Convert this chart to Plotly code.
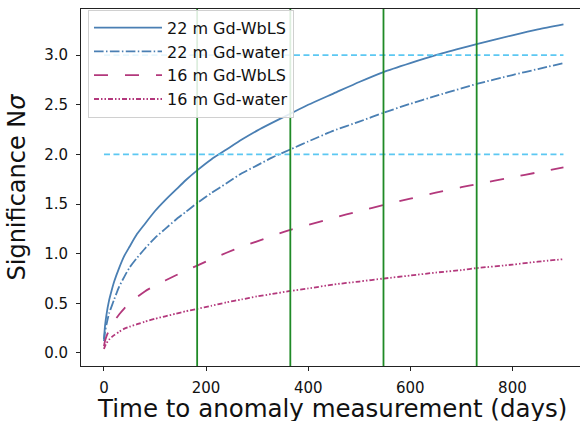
import plotly.graph_objects as go

# ---- data ----
days = [0, 2, 5, 10, 15, 20, 30, 40, 50, 65, 80, 100, 120, 140, 160, 182.5, 210, 240, 270,
        300, 330, 365, 400, 450, 500, 547.5, 600, 650, 700, 730, 800, 850, 900]
sig_22_wbls = [0.14, 0.27, 0.39, 0.53, 0.63, 0.72, 0.86, 0.98, 1.07, 1.20, 1.30, 1.43, 1.54, 1.64, 1.74,
               1.84, 1.95, 2.05, 2.15, 2.24, 2.32, 2.41, 2.50, 2.615, 2.73, 2.83, 2.92, 3.00, 3.07,
               3.11, 3.20, 3.26, 3.31]
sig_22_water = [0.12, 0.21, 0.29, 0.40, 0.47, 0.54, 0.67, 0.77, 0.86, 0.96, 1.05, 1.16, 1.25, 1.34, 1.42,
                1.51, 1.61, 1.71, 1.81, 1.89, 1.97, 2.05, 2.13, 2.24, 2.33, 2.42, 2.51, 2.59, 2.665,
                2.71, 2.80, 2.86, 2.92]
sig_16_wbls = [0.07, 0.12, 0.17, 0.23, 0.28, 0.32, 0.39, 0.45, 0.50, 0.565, 0.62, 0.68, 0.73, 0.78, 0.83,
               0.88, 0.945, 1.01, 1.07, 1.125, 1.18, 1.24, 1.29, 1.36, 1.43, 1.49, 1.555, 1.615, 1.67,
               1.70, 1.77, 1.82, 1.87]
sig_16_water = [0.04, 0.07, 0.10, 0.135, 0.16, 0.18, 0.215, 0.245, 0.265, 0.29, 0.315, 0.345, 0.37, 0.395,
                0.42, 0.445, 0.475, 0.51, 0.54, 0.57, 0.595, 0.625, 0.65, 0.69, 0.72, 0.75, 0.78, 0.81,
                0.835, 0.855, 0.89, 0.92, 0.945]

series_names = ["22 m Gd-WbLS", "22 m Gd-water", "16 m Gd-WbLS", "16 m Gd-water"]
milestones = [182.5, 365, 547.5, 730]          # vertical green lines
thresholds = [2.0, 3.0]                        # horizontal dashed lines
threshold_span = [0, 900]
x_ticks = [0, 200, 400, 600, 800]
y_ticks = [0.0, 0.5, 1.0, 1.5, 2.0, 2.5, 3.0]
x_title = "Time to anomaly measurement (days)"
y_title = "Significance N<i>σ</i>"

BLUE = "#4a7fb3"
MAG = "#b3387c"
SKY = "#5cc8f2"
GREEN = "#1f8a26"

fig = go.Figure()

styles = [
    (sig_22_wbls, BLUE, "solid"),
    (sig_22_water, BLUE, "9.6px,2.4px,1.5px,2.4px"),
    (sig_16_wbls, MAG, "14px,17px"),
    (sig_16_water, MAG, "5px,2px,1.5px,2px,1.5px,2px"),
]
for name, (vals, col, dash) in zip(series_names, styles):
    fig.add_trace(go.Scatter(
        x=days, y=vals, mode="lines", name=name,
        line=dict(color=col, width=1.8, dash=dash, shape="spline", smoothing=0.6),
    ))

for thr in thresholds:
    fig.add_trace(go.Scatter(
        x=threshold_span, y=[thr, thr], mode="lines", showlegend=False,
        line=dict(color=SKY, width=1.8, dash="6px,3.5px"), hoverinfo="skip",
    ))

for m in milestones:
    fig.add_shape(type="line", x0=m, x1=m, xref="x", y0=0, y1=1, yref="y domain",
                  line=dict(color=GREEN, width=1.8), layer="above")

font_family = "DejaVu Sans"

# x-axis title as an annotation so it can sit lower than the margin allows
fig.add_annotation(text=x_title, xref="paper", yref="paper", x=0.503, y=-0.118,
                   xanchor="center", yanchor="middle", showarrow=False,
                   font=dict(size=24.5, family=font_family, color="#111111"))

fig.update_layout(
    width=580, height=421,
    margin=dict(l=81, r=0, t=9, b=55),
    paper_bgcolor="white", plot_bgcolor="white",
    font=dict(family=font_family, color="#111111", size=15),
    showlegend=True,
    legend=dict(
        x=0.014, y=0.998, xanchor="left", yanchor="top",
        bgcolor="rgba(255,255,255,0.85)", bordercolor="#d0d0d0", borderwidth=1,
        font=dict(size=16, family=font_family, color="#111111"),
        itemwidth=68, tracegroupgap=0,
    ),
    xaxis=dict(
        range=[-45, 932.4], tickvals=x_ticks, ticks="outside", ticklen=4, tickwidth=1,
        tickcolor="#222", showline=True, linecolor="#222", linewidth=1, mirror=True,
        showgrid=False, zeroline=False, tickfont=dict(size=15), ticklabelstandoff=4,
    ),
    yaxis=dict(
        range=[-0.131, 3.465], tickvals=y_ticks, tickformat=".1f", ticks="outside",
        ticklen=4, tickwidth=1, tickcolor="#222", showline=True, linecolor="#222",
        linewidth=1, mirror=False, showgrid=False, zeroline=False, tickfont=dict(size=15),
        ticklabelstandoff=5,
        title=dict(text=y_title, font=dict(size=24), standoff=11),
    ),
)

fig.write_html(
    "out.html",
    config={"displayModeBar": False},
    post_script="document.body.style.margin='0px';document.body.style.overflow='hidden';",
)
